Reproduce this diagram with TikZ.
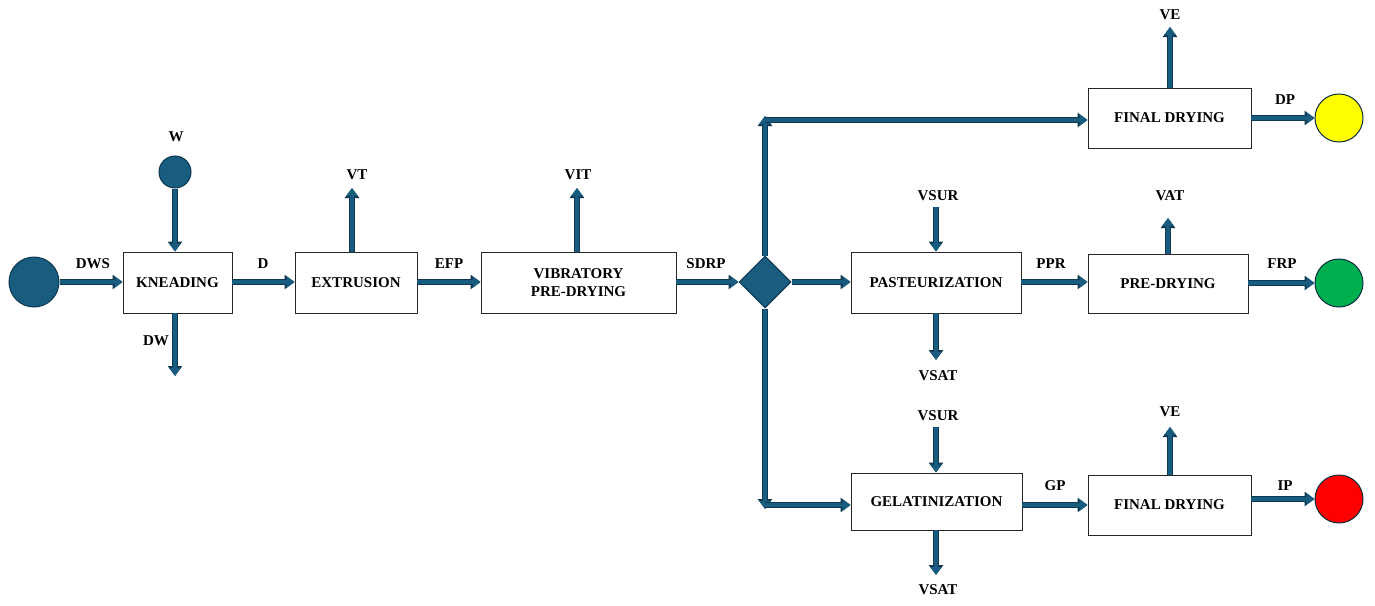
\documentclass[tikz,border=0pt]{standalone}
\usepackage{fontspec}
\setmainfont{Liberation Serif}
\usetikzlibrary{arrows.meta,shapes.geometric}
\definecolor{pfill}{HTML}{185C80}
\definecolor{pedge}{HTML}{0E3850}
\definecolor{pyel}{HTML}{FFFF00}
\definecolor{pgrn}{HTML}{00B050}
\definecolor{pred}{HTML}{FF0000}
\tikzset{
  procbox/.style={draw=black!85, line width=0.9pt, fill=white, inner sep=0pt, align=center,
    font=\fontsize{15}{18}\selectfont\bfseries},
  lbl/.style={font=\fontsize{15}{16}\selectfont\bfseries, inner sep=0pt},
  flow/.style={line width=3.6pt, draw=pfill, -{Triangle[length=8pt,width=11pt]},
    preaction={draw=pedge, line width=5.6pt, -{Triangle[length=10pt,width=14pt]}}},
  src/.style={circle, draw=pedge, line width=1pt, fill=pfill, inner sep=0pt},
  sink/.style={circle, draw=pedge!80!black, line width=1pt, inner sep=0pt, minimum size=48pt},
}
\begin{document}
\begin{tikzpicture}[x=1pt,y=-1pt]
\useasboundingbox (0,0) rectangle (1375,605);
% nodes
\node[src, minimum size=50pt] (start) at (34,282) {};
\node[src, minimum size=32pt] (w) at (175,172) {};
\node[procbox, minimum width=109pt, minimum height=61pt] (knead) at (177.5,282.5) {KNEADING};
\node[procbox, minimum width=122pt, minimum height=61pt] (extr) at (356,282.5) {EXTRUSION};
\node[procbox, minimum width=195pt, minimum height=61pt] (vib) at (578.5,282.5) {VIBRATORY\\PRE-DRYING};
\node[diamond, draw=pedge, line width=1pt, fill=pfill, minimum width=52pt, minimum height=52pt, inner sep=0pt] (dia) at (765,282) {};
\node[procbox, minimum width=163pt, minimum height=60pt] (fd1) at (1169.5,118) {FINAL DRYING};
\node[procbox, minimum width=170pt, minimum height=61pt] (past) at (936,282.5) {PASTEURIZATION};
\node[procbox, minimum width=160pt, minimum height=59pt] (pre) at (1168,283.5) {PRE-DRYING};
\node[procbox, minimum width=171pt, minimum height=57pt] (gel) at (936.5,501.5) {\raisebox{-3pt}{GELATINIZATION}};
\node[procbox, minimum width=163pt, minimum height=60pt] (fd2) at (1169.5,505) {FINAL DRYING};
\node[sink, fill=pyel] (yel) at (1339,118) {};
\node[sink, fill=pgrn] (grn) at (1339,283) {};
\node[sink, fill=pred] (red) at (1339,499) {};
% free ends
\coordinate (dwend) at (175,376);
\coordinate (vtend) at (352,188);
\coordinate (vitend) at (577,188);
\coordinate (topc) at (765,120);
\coordinate (toptip) at (765,116);
\coordinate (botc) at (765,505);
\coordinate (bottip) at (765,509);
\coordinate (ve1end) at (1170,27);
\coordinate (vsur1) at (936,207);
\coordinate (vsat1) at (936,360);
\coordinate (vatend) at (1168,218);
\coordinate (vsur2) at (936,427);
\coordinate (vsat2) at (936,575);
\coordinate (ve2end) at (1170,427);
% connectors
\draw[flow] (start.east) -- (start.east -| knead.west);
\draw[flow] (w.south) -- (w.south |- knead.north);
\draw[flow] (dwend |- knead.south) -- (dwend);
\draw[flow] (knead.east |- start.east) -- (start.east -| extr.west);
\draw[flow] (vtend |- extr.north) -- (vtend);
\draw[flow] (extr.east |- start.east) -- (start.east -| vib.west);
\draw[flow] (vitend |- vib.north) -- (vitend);
\draw[flow] (vib.east |- dia.west) -- (dia.west);
\draw[flow] (dia.north) -- (toptip);
\draw[flow] (topc) -- (topc -| fd1.west);
\draw[flow] (dia.south) -- (bottip);
\draw[flow] (botc) -- (botc -| gel.west);
\draw[flow] (dia.east) -- (dia.east -| past.west);
\draw[flow] (ve1end |- fd1.north) -- (ve1end);
\draw[flow] (fd1.east) -- (yel.west);
\draw[flow] (vsur1) -- (vsur1 |- past.north);
\draw[flow] (vsat1 |- past.south) -- (vsat1);
\draw[flow] (past.east |- dia.east) -- (dia.east -| pre.west);
\draw[flow] (vatend |- pre.north) -- (vatend);
\draw[flow] (pre.east |- grn.west) -- (grn.west);
\draw[flow] (vsur2) -- (vsur2 |- gel.north);
\draw[flow] (vsat2 |- gel.south) -- (vsat2);
\draw[flow] (gel.east |- botc) -- (botc -| fd2.west);
\draw[flow] (ve2end |- fd2.north) -- (ve2end);
\draw[flow] (fd2.east |- red.west) -- (red.west);
% labels
\node[lbl] (lw) at (176,137) {W};
\node[lbl] (ldws) at (93,264) {DWS};
\node[lbl] (ldw) at (156,341) {DW};
\node[lbl] (ld) at (263,264) {D};
\node[lbl] (lvt) at (357,175) {VT};
\node[lbl] (lefp) at (449,264) {EFP};
\node[lbl] (lvit) at (578,175) {VIT};
\node[lbl] (lsdrp) at (706,264) {SDRP};
\node[lbl] (lve1) at (1170,15) {VE};
\node[lbl] (ldp) at (1285,100) {DP};
\node[lbl] (lvsur1) at (938,196) {VSUR};
\node[lbl] (lvsat1) at (938,376) {VSAT};
\node[lbl] (lppr) at (1051,264) {PPR};
\node[lbl] (lvat) at (1170,196) {VAT};
\node[lbl] (lfrp) at (1282,264) {FRP};
\node[lbl] (lvsur2) at (938,416) {VSUR};
\node[lbl] (lvsat2) at (938,590) {VSAT};
\node[lbl] (lgp) at (1055,486) {GP};
\node[lbl] (lve2) at (1170,412) {VE};
\node[lbl] (lip) at (1285,486) {IP};
\end{tikzpicture}
\end{document}
